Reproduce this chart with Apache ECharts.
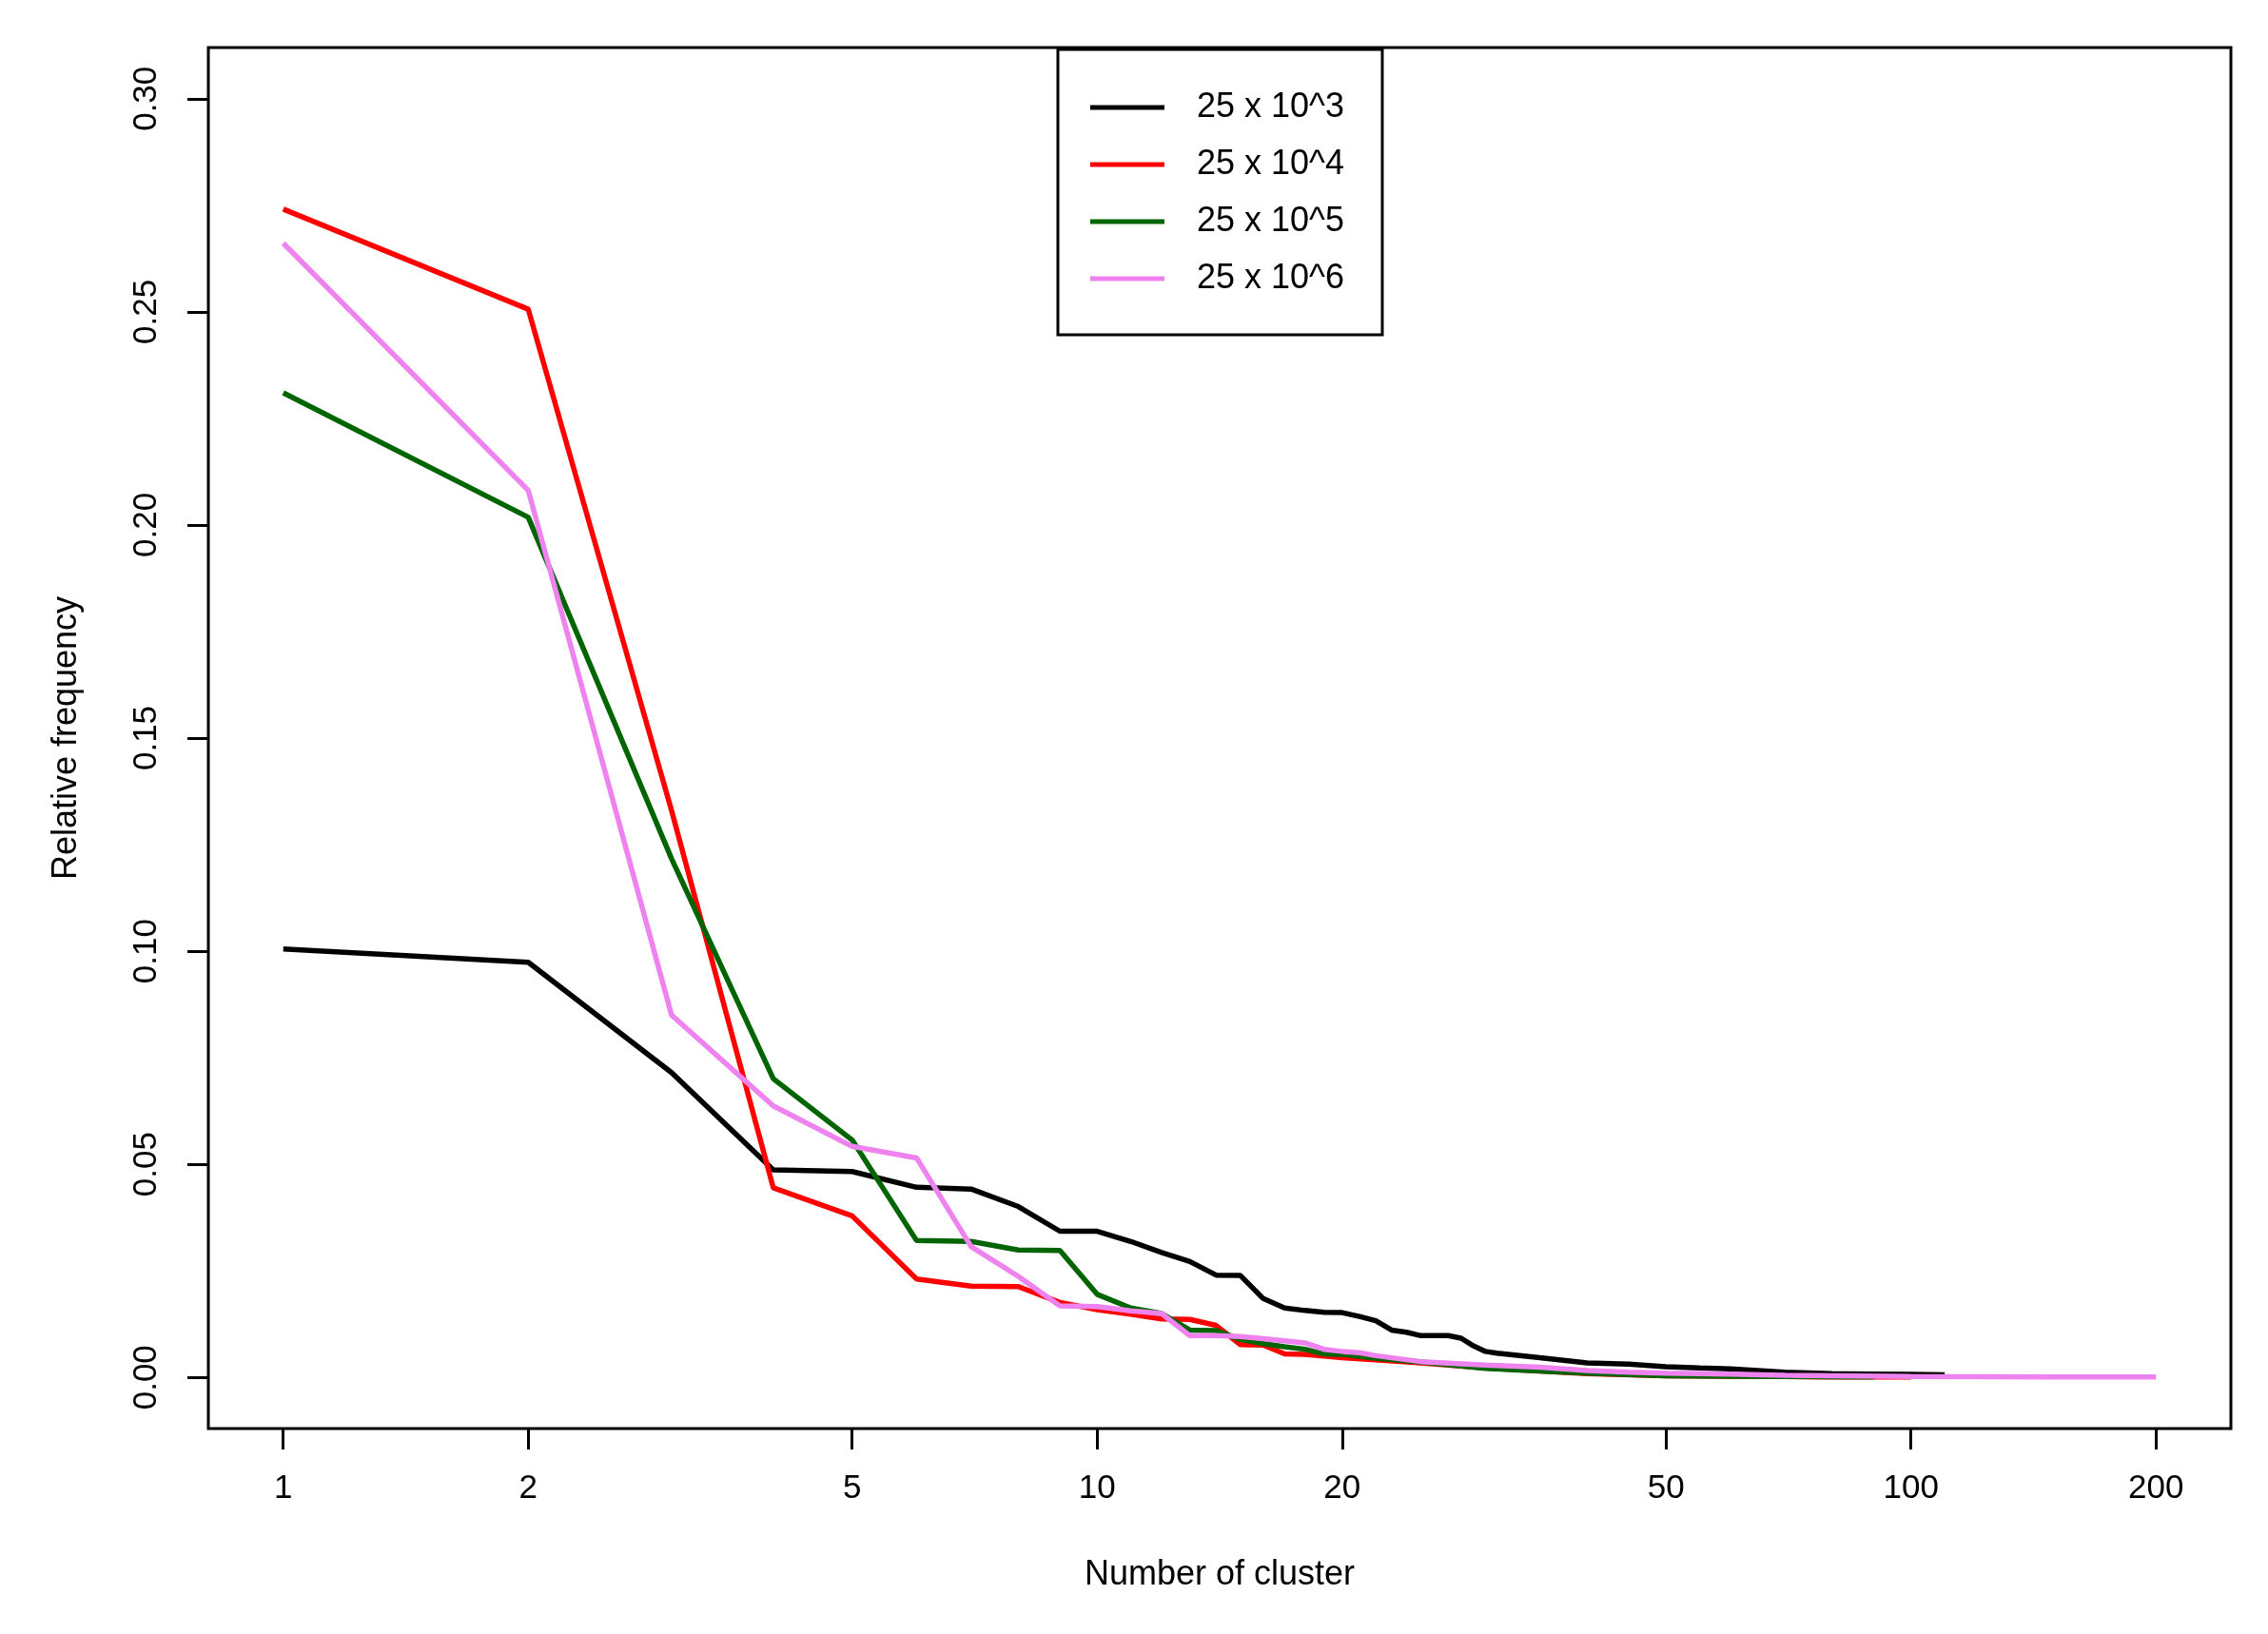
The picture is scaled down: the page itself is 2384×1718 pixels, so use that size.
<!DOCTYPE html>
<html>
<head>
<meta charset="utf-8">
<title>Relative frequency by number of cluster</title>
<script src="https://cdn.jsdelivr.net/npm/echarts@6/dist/echarts.min.js"></script>
<style>
    html, body { margin: 0; padding: 0; background: #fff; }
    #chart { width: 2384px; height: 1718px; }
</style>
</head>
<body>
<div id="chart"></div>
<script>
var seriesNames = ['25 x 10^3', '25 x 10^4', '25 x 10^5', '25 x 10^6'];
var seriesColors = ['#000000', '#ff0000', '#006400', '#ee82ee'];

var xTicks = [1, 2, 5, 10, 20, 50, 100, 200];
var yTicks = [0, 0.05, 0.10, 0.15, 0.20, 0.25, 0.30];

// 25 x 10^3
var clusterA = [1, 2, 3, 4, 5, 6, 7, 8, 9, 10, 11, 12, 13, 14, 15, 16, 17, 18, 19, 20,
    21, 22, 23, 24, 25, 26, 27, 28, 29, 30, 31, 35, 40, 45, 50, 55, 60, 70, 80, 90, 100, 110];
var freqA = [0.1005, 0.0974, 0.0715, 0.0487, 0.0483, 0.0446, 0.0442, 0.0401, 0.0343, 0.0343,
    0.0319, 0.0293, 0.0272, 0.0240, 0.0239, 0.0185, 0.0163, 0.0157, 0.0153, 0.0152,
    0.0143, 0.0133, 0.0111, 0.0106, 0.0098, 0.0098, 0.0098, 0.0092, 0.0074, 0.0061,
    0.0057, 0.0046, 0.0034, 0.0031, 0.0025, 0.0022, 0.0020, 0.0012, 0.0009, 0.0008, 0.0007, 0.0006];

// 25 x 10^4
var clusterB = [1, 2, 3, 4, 5, 6, 7, 8, 9, 10, 11, 12, 13, 14, 15, 16, 17, 18, 19, 20,
    22, 25, 30, 35, 40, 50, 60, 70, 80, 100];
var freqB = [0.2741, 0.2506, 0.1330, 0.0445, 0.0379, 0.0231, 0.0214, 0.0213, 0.0176, 0.0159,
    0.0148, 0.0137, 0.0136, 0.0122, 0.0077, 0.0076, 0.0055, 0.0054, 0.0050, 0.0046,
    0.0041, 0.0034, 0.0022, 0.0015, 0.0009, 0.0004, 0.0003, 0.0002, 0.0001, 0.0001];

// 25 x 10^5
var clusterC = [1, 2, 3, 4, 5, 6, 7, 8, 9, 10, 11, 12, 13, 14, 15, 16, 17, 18, 19, 20,
    22, 25, 30, 35, 40, 50, 60, 70, 90];
var freqC = [0.2310, 0.2018, 0.1217, 0.0701, 0.0557, 0.0321, 0.0319, 0.0299, 0.0298, 0.0195,
    0.0163, 0.0150, 0.0111, 0.0110, 0.0089, 0.0079, 0.0072, 0.0066, 0.0055, 0.0054,
    0.0045, 0.0036, 0.0021, 0.0015, 0.0010, 0.0004, 0.0003, 0.0002, 0.0001];

// 25 x 10^6
var clusterD = [1, 2, 3, 4, 5, 6, 7, 8, 9, 10, 11, 12, 13, 14, 15, 16, 17, 18, 19, 20,
    21, 22, 25, 30, 35, 40, 45, 50, 60, 70, 80, 100, 150, 200];
var freqD = [0.2661, 0.2081, 0.0850, 0.0637, 0.0542, 0.0515, 0.0307, 0.0237, 0.0168, 0.0166,
    0.0156, 0.0150, 0.0098, 0.0098, 0.0096, 0.0091, 0.0086, 0.0081, 0.0066, 0.0061,
    0.0058, 0.0051, 0.0037, 0.0029, 0.0024, 0.0016, 0.0012, 0.0010, 0.0008, 0.0005,
    0.0004, 0.0002, 0.0001, 0.0001];

var clusters = [clusterA, clusterB, clusterC, clusterD];
var freqs = [freqA, freqB, freqC, freqD];

function pairs(xs, ys) {
    return xs.map(function (x, i) { return [x, ys[i]]; });
}

var font = '"Liberation Sans", Arial, Helvetica, sans-serif';

var myChart = echarts.init(document.getElementById('chart'));
myChart.setOption({
    animation: false,
    backgroundColor: '#ffffff',
    grid: {
        left: 219,
        top: 50,
        right: 39,
        bottom: 216,
        show: true,
        borderColor: '#000',
        borderWidth: 3,
        backgroundColor: 'transparent'
    },
    legend: {
        orient: 'vertical',
        left: 1112,
        top: 52,
        data: seriesNames,
        icon: 'rect',
        itemWidth: 78,
        itemHeight: 5,
        itemGap: 24,
        padding: [43, 40, 41, 34],
        borderColor: '#000',
        borderWidth: 3,
        backgroundColor: '#fff',
        selectedMode: false,
        textStyle: {
            fontFamily: font,
            fontSize: 36,
            color: '#000',
            padding: [0, 0, 0, 29]
        }
    },
    xAxis: {
        type: 'log',
        logBase: 10,
        min: 0.809,
        max: 247.2,
        name: 'Number of cluster',
        nameLocation: 'middle',
        nameGap: 136,
        nameTextStyle: {fontFamily: font, fontSize: 36, color: '#000'},
        axisLine: {show: false, onZero: false},
        axisTick: {
            show: true,
            length: 22,
            customValues: xTicks,
            lineStyle: {color: '#000', width: 3}
        },
        axisLabel: {
            customValues: xTicks,
            margin: 46,
            fontFamily: font,
            fontSize: 35,
            color: '#000',
            formatter: function (v) { return String(v); }
        },
        splitLine: {show: false},
        minorTick: {show: false}
    },
    yAxis: {
        type: 'value',
        min: -0.012,
        max: 0.312,
        name: 'Relative frequency',
        nameLocation: 'middle',
        nameGap: 131,
        nameTextStyle: {fontFamily: font, fontSize: 36, color: '#000'},
        axisLine: {show: false, onZero: false},
        axisTick: {
            show: true,
            length: 22,
            customValues: yTicks,
            lineStyle: {color: '#000', width: 3}
        },
        axisLabel: {
            customValues: yTicks,
            rotate: 90,
            margin: 47,
            fontFamily: font,
            fontSize: 35,
            color: '#000',
            formatter: function (v) { return v.toFixed(2); }
        },
        splitLine: {show: false}
    },
    series: seriesNames.map(function (name, i) {
        return {
            name: name,
            type: 'line',
            data: pairs(clusters[i], freqs[i]),
            showSymbol: false,
            symbol: 'none',
            color: seriesColors[i],
            lineStyle: {color: seriesColors[i], width: 5.5},
            emphasis: {disabled: true}
        };
    })
});
</script>
</body>
</html>
